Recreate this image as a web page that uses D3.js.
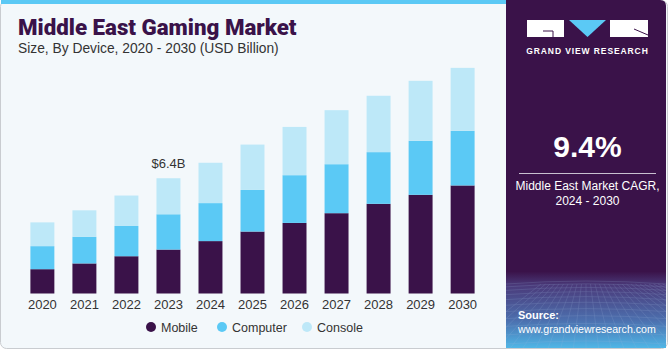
<!DOCTYPE html>
<html>
<head>
<meta charset="utf-8">
<title>Middle East Gaming Market</title>
<script src="https://d3js.org/d3.v7.min.js"></script>
<style>
  body { margin: 0; background: #fff; }
  svg { display: block; font-family: "Liberation Sans", Arial, sans-serif; }
</style>
</head>
<body>
<div id="chart"></div>
<script>
// data (USD billion)
var years = ["2020","2021","2022","2023","2024","2025","2026","2027","2028","2029","2030"];
var mobile   = [1.35, 1.67, 2.07, 2.44, 2.91, 3.44, 3.92, 4.46, 4.98, 5.48, 6.00];
var computer = [1.28, 1.48, 1.68, 1.96, 2.11, 2.31, 2.65, 2.72, 2.87, 3.00, 3.03];
var consoleV = [1.32, 1.47, 1.69, 2.00, 2.24, 2.52, 2.68, 3.00, 3.13, 3.33, 3.50];
var seriesNames = ["Mobile", "Computer", "Console"];
var colors = ["#3a1249", "#5bc9f5", "#bde8f8"];

var width = 671, height = 350;

var rows = years.map(function(y, i) {
  return {year: y, Mobile: mobile[i], Computer: computer[i], Console: consoleV[i]};
});

var svg = d3.select("#chart").append("svg")
  .attr("width", width)
  .attr("height", height);

// card background + border
svg.append("rect")
  .attr("x", 0.5).attr("y", 0.5)
  .attr("width", width - 4).attr("height", height - 2)
  .attr("rx", 6)
  .style("fill", "#f3f8fb")
  .style("stroke", "#c9ccd0");

// top stripe
svg.append("rect")
  .attr("x", 1).attr("y", 0)
  .attr("width", 506).attr("height", 4)
  .style("fill", "#5bc9f5");

// title
svg.append("text")
  .attr("x", 18).attr("y", 35)
  .style("font-family", "Roboto, 'Liberation Sans', sans-serif")
  .style("font-weight", 900)
  .style("font-size", "22.3px")
  .style("fill", "#3a1249")
  .text("Middle East Gaming Market");
svg.append("text")
  .attr("x", 18).attr("y", 53)
  .style("font-size", "13.8px")
  .style("fill", "#333")
  .text("Size, By Device, 2020 - 2030 (USD Billion)");

// scales
var x = d3.scaleBand()
  .domain(years)
  .range([22, 483])
  .paddingInner(0.43)
  .paddingOuter(0.2);

var y = d3.scaleLinear()
  .domain([0, 12.55])
  .range([293.5, 67.5]);

var stack = d3.stack().keys(seriesNames);
var stacked = stack(rows);

svg.append("g")
  .selectAll("g")
  .data(stacked)
  .enter().append("g")
    .style("fill", function(d, i) { return colors[i]; })
  .selectAll("rect")
  .data(function(d) { return d; })
  .enter().append("rect")
    .attr("x", function(d) { return x(d.data.year); })
    .attr("y", function(d) { return y(d[1]); })
    .attr("width", x.bandwidth())
    .attr("height", function(d) { return y(d[0]) - y(d[1]); });

// x axis
var xAxis = svg.append("g")
  .attr("transform", "translate(0,293.5)")
  .call(d3.axisBottom(x).tickSize(0).tickPadding(6));
xAxis.select(".domain").remove();
xAxis.selectAll("text")
  .style("font-family", "'Liberation Sans', Arial, sans-serif")
  .style("font-size", "13px")
  .style("fill", "#333");

// annotation on 2023
var total2023 = mobile[3] + computer[3] + consoleV[3];
svg.append("text")
  .attr("x", x("2023") + x.bandwidth() / 2)
  .attr("y", y(total2023) - 10)
  .attr("text-anchor", "middle")
  .style("font-size", "13px")
  .style("fill", "#333")
  .text("$" + total2023.toFixed(1) + "B");

// legend
var legendX = [151, 222, 307];
var legend = svg.append("g").selectAll("g")
  .data(seriesNames)
  .enter().append("g")
  .attr("transform", function(d, i) { return "translate(" + legendX[i] + ",327)"; });
legend.append("circle")
  .attr("r", 5)
  .style("fill", function(d, i) { return colors[i]; });
legend.append("text")
  .attr("x", 10).attr("y", 4.5)
  .style("font-size", "12.5px")
  .style("fill", "#333")
  .text(function(d) { return d; });

// right panel
var defs = svg.append("defs");
var grad = defs.append("linearGradient")
  .attr("id", "panelGrad")
  .attr("x1", 0).attr("y1", 0).attr("x2", 0).attr("y2", 1);
grad.append("stop").attr("offset", "0%").attr("stop-color", "#3a1249");
grad.append("stop").attr("offset", "78%").attr("stop-color", "#3a1249");
grad.append("stop").attr("offset", "82%").attr("stop-color", "#4a3a7a");
grad.append("stop").attr("offset", "92%").attr("stop-color", "#4c6fae");
grad.append("stop").attr("offset", "100%").attr("stop-color", "#4fb6e6");

var clip = defs.append("clipPath").attr("id", "panelClip");
clip.append("path")
  .attr("d", "M506,0 H660 Q666,0 666,6 V348 H506 Z");

var panel = svg.append("g").attr("clip-path", "url(#panelClip)");
panel.append("rect")
  .attr("x", 506).attr("y", 0)
  .attr("width", 160).attr("height", 348)
  .style("fill", "url(#panelGrad)");

// faint grid texture in the lower part
var gridG = panel.append("g")
  .style("stroke", "#9fb6dd")
  .style("stroke-width", 0.5)
  .style("opacity", 0.35)
  .style("fill", "none");
d3.range(0, 14).forEach(function(i) {
  var yy = 284 + i * i * 0.35 + i * 2.5;
  gridG.append("path")
    .attr("d", "M506," + yy + " Q586," + (yy - 6) + " 666," + yy);
});
d3.range(-10, 30).forEach(function(i) {
  var xx = 586 + i * 9;
  gridG.append("line")
    .attr("x1", 586 + (xx - 586) * 0.5).attr("y1", 284)
    .attr("x2", 586 + (xx - 586) * 1.4).attr("y2", 348);
});

// logo
var logo = svg.append("g");
logo.append("rect").attr("x", 527).attr("y", 20).attr("width", 37).attr("height", 17).style("fill", "#fff");
logo.append("path").attr("d", "M543,31 H553 V37").style("stroke", "#3a1249").style("stroke-width", 1).style("fill", "none");
logo.append("path").attr("d", "M569,20 H606 L587.5,37 Z").style("fill", "#5bc9f5");
logo.append("rect").attr("x", 610).attr("y", 20).attr("width", 38).attr("height", 17).style("fill", "#fff");
logo.append("path").attr("d", "M634,29 L648,35").style("stroke", "#3a1249").style("stroke-width", 1);
logo.append("text")
  .attr("x", 587.5).attr("y", 54)
  .attr("text-anchor", "middle")
  .style("font-size", "8.5px")
  .style("font-weight", "bold")
  .style("letter-spacing", "0.9px")
  .style("fill", "#fff")
  .text("GRAND VIEW RESEARCH");

// CAGR
svg.append("text")
  .attr("x", 587.5).attr("y", 157)
  .attr("text-anchor", "middle")
  .style("font-size", "30px")
  .style("font-weight", "bold")
  .style("fill", "#fff")
  .text("9.4%");
svg.append("line")
  .attr("x1", 519).attr("x2", 656)
  .attr("y1", 173.5).attr("y2", 173.5)
  .style("stroke", "#c8c0d0")
  .style("stroke-width", 1);
svg.append("text")
  .attr("x", 587.5).attr("y", 190)
  .attr("text-anchor", "middle")
  .style("font-size", "12px")
  .style("fill", "#fff")
  .text("Middle East Market CAGR,");
svg.append("text")
  .attr("x", 587.5).attr("y", 205)
  .attr("text-anchor", "middle")
  .style("font-size", "12px")
  .style("fill", "#fff")
  .text("2024 - 2030");

// source
svg.append("text")
  .attr("x", 518).attr("y", 319)
  .style("font-size", "11px")
  .style("font-weight", "bold")
  .style("fill", "#fff")
  .text("Source:");
svg.append("text")
  .attr("x", 518).attr("y", 333)
  .style("font-size", "10.6px")
  .style("fill", "#fff")
  .text("www.grandviewresearch.com");
</script>
</body>
</html>
